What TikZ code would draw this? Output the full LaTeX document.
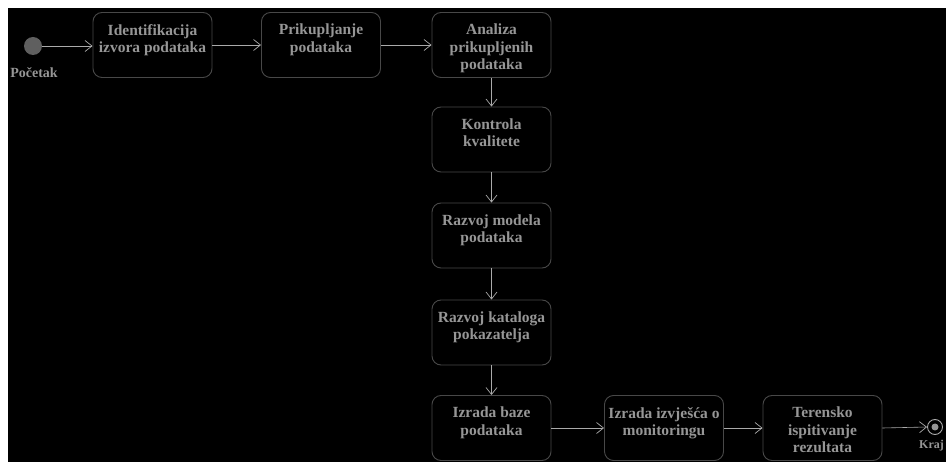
\documentclass[tikz,border=0pt]{standalone}
\usepackage{fontspec}
\setmainfont{Liberation Serif}
\usetikzlibrary{arrows.meta}
\definecolor{bordercol}{RGB}{72,72,72}
\definecolor{textcol}{RGB}{150,150,150}
\definecolor{arrowcol}{RGB}{170,170,170}
\definecolor{startcol}{RGB}{95,95,95}
\tikzset{
  actbox/.style={draw=bordercol, line width=0.9pt, rounded corners=9pt, fill=black, minimum width=119pt, minimum height=65pt, inner sep=0pt},
  boxtext/.style={text=textcol, font=\bfseries\fontsize{15.5}{17.5}\selectfont, align=center, anchor=north, inner sep=0pt},
  flow/.style={draw=arrowcol, line width=0.6pt, -{Straight Barb[length=7pt,width=11pt,line width=0.7pt]}},
  lbl/.style={text=textcol, font=\bfseries\fontsize{14}{16}\selectfont, inner sep=0pt}
}
\begin{document}
\begin{tikzpicture}[x=1pt,y=-1pt]
\useasboundingbox (0,0) rectangle (946,462);
\fill[white] (0,0) rectangle (946,462);
\fill[black] (8,8) rectangle (946,462);
% start
\node[circle, fill=startcol, minimum size=18pt, inner sep=0pt] (start) at (33,46) {};
\node[lbl, anchor=north] (startlbl) at (34,67) {Početak};
% boxes
\node[actbox] (b1) at (152.5,45) {};
\node[boxtext] (t1) at (152.5,24) {Identifikacija\\izvora podataka};
\node[actbox] (b2) at (321,45) {};
\node[boxtext] (t2) at (321,24) {Prikupljanje\\podataka};
\node[actbox] (b3) at (491.5,45) {};
\node[boxtext] (t3) at (491.5,24) {Analiza\\prikupljenih\\podataka};
\node[actbox] (b4) at (491.5,139.5) {};
\node[boxtext] (t4) at (491.5,118.5) {Kontrola\\kvalitete};
\node[actbox] (b5) at (491.5,235.5) {};
\node[boxtext] (t5) at (491.5,214.5) {Razvoj modela\\podataka};
\node[actbox] (b6) at (491.5,332.5) {};
\node[boxtext] (t6) at (491.5,311.5) {Razvoj kataloga\\pokazatelja};
\node[actbox] (b7) at (491.5,428) {};
\node[boxtext] (t7) at (491.5,407) {Izrada baze\\podataka};
\node[actbox] (b8) at (664,428) {};
\node[boxtext] (t8) at (664,407) {Izrada izvješća o\\monitoringu};
\node[actbox] (b9) at (822.5,428) {};
\node[boxtext] (t9) at (822.5,407) {Terensko\\ispitivanje\\rezultata};
% end
\node[circle, draw=arrowcol, line width=0.9pt, minimum size=15pt, inner sep=0pt] (endc) at (935,427) {};
\node[circle, fill=textcol, minimum size=7pt, inner sep=0pt] (endi) at (935,427) {};
\node[lbl, font=\bfseries\fontsize{12}{14}\selectfont, anchor=north west] (endlbl) at (919,440) {Kraj};
% flows
\draw[flow] (start.east) -- (b1.west |- start.east);
\draw[flow] (b1.east) -- (b2.west);
\draw[flow] (b2.east) -- (b3.west);
\draw[flow] (b3.south) -- (b4.north);
\draw[flow] (b4.south) -- (b5.north);
\draw[flow] (b5.south) -- (b6.north);
\draw[flow] (b6.south) -- (b7.north);
\draw[flow] (b7.east) -- (b8.west);
\draw[flow] (b8.east) -- (b9.west);
\draw[flow] (b9.east) -- (endc.west);
\end{tikzpicture}
\end{document}
